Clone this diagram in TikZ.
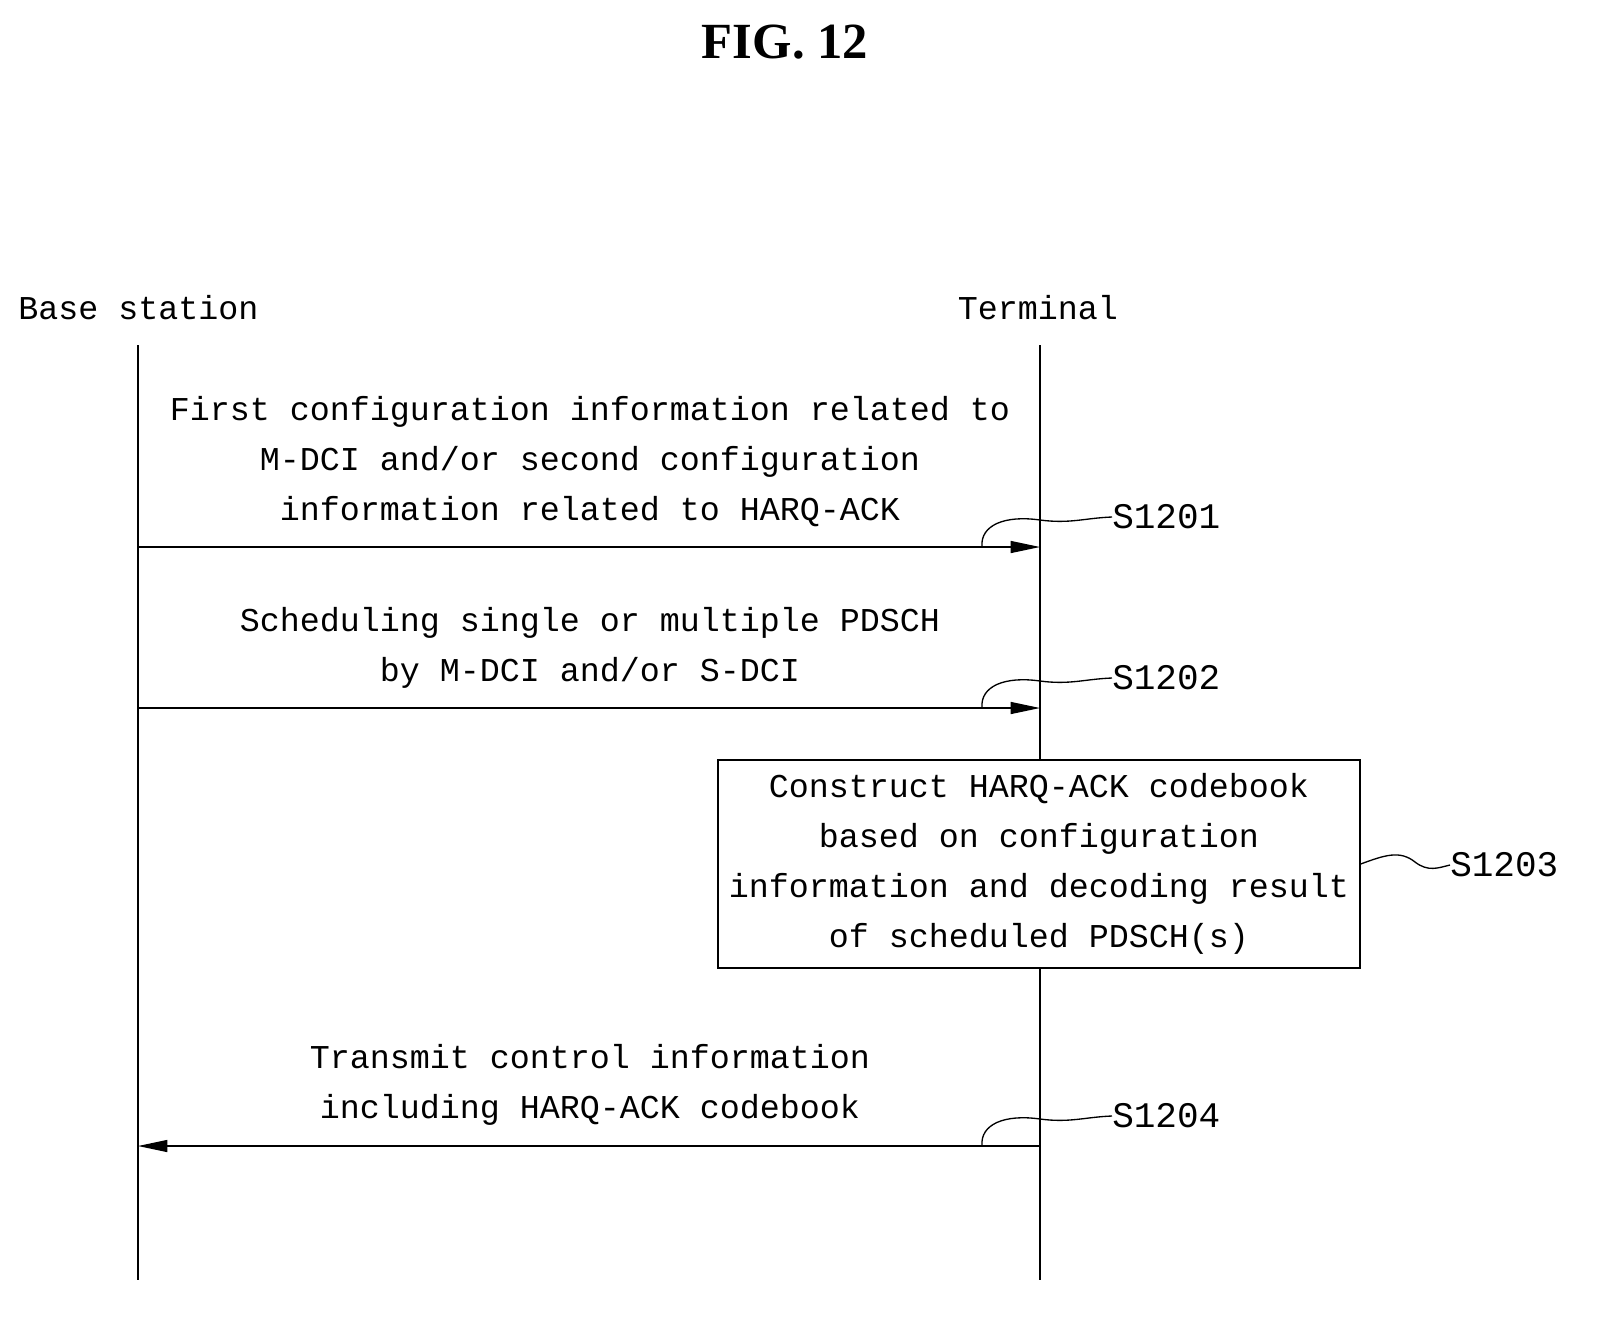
\documentclass[tikz,border=0pt]{standalone}
\usepackage{fontspec}
\setmainfont{Liberation Serif}
\setmonofont{Liberation Mono}
\usetikzlibrary{arrows.meta}
\begin{document}
\begin{tikzpicture}[x=0.75pt,y=-0.75pt,
  txt/.style={font=\ttfamily\fontsize{25}{37.5}\selectfont,align=center,inner sep=0},
  lbl/.style={font=\ttfamily\fontsize{27}{30}\selectfont,inner sep=0,anchor=west},
  msg/.style={line width=1pt,-{Triangle[length=22pt,width=9pt]}},
  sq/.style={line width=1pt}]
\useasboundingbox (0,0) rectangle (1603,1329);
\node[font=\bfseries\fontsize{38}{40}\selectfont] (title) at (785,42) {FIG. 12};
\node[txt,anchor=west] (bs) at (18,308) {Base station};
\node[txt] (tm) at (1038,308) {Terminal};
\coordinate (bt) at (138,345); \coordinate (bb) at (138,1280);
\coordinate (tt) at (1040,345); \coordinate (tb) at (1040,1280);
\draw[line width=1pt] (bt) -- (bb);
\draw[line width=1pt] (tt) -- (tb);
\node[txt] (m1) at (590,462) {First configuration information related to\\M-DCI and/or second configuration\\information related to HARQ-ACK};
\coordinate (a1s) at (138,547); \coordinate (a1e) at (1040,547);
\draw[msg] (a1s) -- (a1e);
\node[txt] (m2) at (590,648) {Scheduling single or multiple PDSCH\\by M-DCI and/or S-DCI};
\coordinate (a2s) at (138,708); \coordinate (a2e) at (1040,708);
\draw[msg] (a2s) -- (a2e);
\node[draw,fill=white,line width=1pt,txt,minimum width=642*0.75pt,minimum height=208*0.75pt] (box) at (1039,864) {Construct HARQ-ACK codebook\\based on configuration\\information and decoding result\\of scheduled PDSCH(s)};
\node[txt] (m4) at (590,1085) {Transmit control information\\including HARQ-ACK codebook};
\coordinate (a4s) at (1040,1146); \coordinate (a4e) at (138,1146);
\draw[msg] (a4s) -- (a4e);
\node[lbl] (s1) at (1112,517) {S1201};
\node[lbl] (s2) at (1112,678) {S1202};
\node[lbl] (s3) at (1450,865) {S1203};
\node[lbl] (s4) at (1112,1116) {S1204};
\coordinate (c1) at (982,547); \coordinate (c2) at (982,708); \coordinate (c4) at (982,1146);
\draw[sq] (c1) .. controls (980,525) and (1005,515) .. (1040,520) .. controls (1070,524) and (1085,518) .. (s1.west);
\draw[sq] (c2) .. controls (980,686) and (1005,676) .. (1040,681) .. controls (1070,685) and (1085,679) .. (s2.west);
\draw[sq] (c4) .. controls (980,1124) and (1005,1114) .. (1040,1119) .. controls (1070,1123) and (1085,1117) .. (s4.west);
\draw[sq] (box.east) .. controls (1385,855) and (1400,850) .. (1415,862) .. controls (1428,872) and (1438,868) .. (s3.west);
\end{tikzpicture}
\end{document}
